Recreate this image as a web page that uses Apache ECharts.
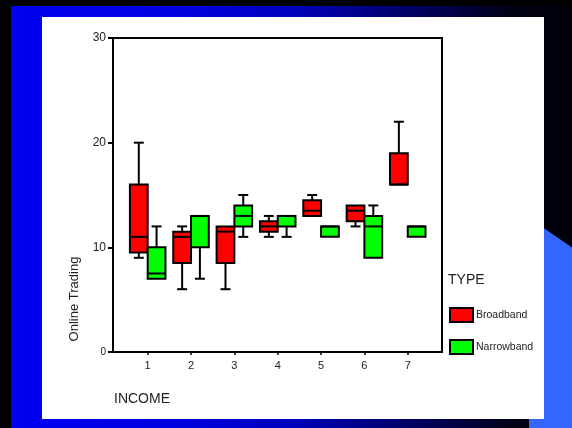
<!DOCTYPE html>
<html>
<head>
<meta charset="utf-8">
<script src="https://cdn.jsdelivr.net/npm/echarts@6/dist/echarts.min.js"></script>
<style>
  html, body { margin: 0; padding: 0; background: #000; }
  #chart { width: 572px; height: 428px; }
</style>
</head>
<body>
<div id="chart"></div>
<script>
// Income groups on the x axis
const incomeLevels = [1, 2, 3, 4, 5, 6, 7];
const incomeLabels = ['1', '2', '3', '4', '5', '6', '7'];

// Five-number summaries per income group: [min, q1, median, q3, max]
const broadband = [
  [9, 9.5, 11, 16, 20],
  [6, 8.5, 11, 11.5, 12],
  [6, 8.5, 11.5, 12, 12],
  [11, 11.5, 12, 12.5, 13],
  [13, 13, 13.5, 14.5, 15],
  [12, 12.5, 13.5, 14, 14],
  [16, 16, 16, 19, 22]
];
const narrowband = [
  [7, 7, 7.5, 10, 12],
  [7, 10, 13, 13, 13],
  [11, 12, 13, 14, 15],
  [11, 12, 13, 13, 13],
  [11, 11, 12, 12, 12],
  [9, 9, 12, 13, 14],
  [11, 11, 12, 12, 12]
];

const yTicks = [0, 10, 20, 30];
const typeNames = ['Broadband', 'Narrowband'];
const typeColors = ['#ff0000', '#00ff00'];

const BOX_W = 0.41;      // box width in x-axis units
const SHIFT = 0.205;     // side-by-side offset from the group centre

function boxRenderer(shift) {
  return function (params, api) {
    const x = api.value(0) + shift;
    const lo = api.coord([x, api.value(1)]);
    const q1 = api.coord([x, api.value(2)]);
    const md = api.coord([x, api.value(3)]);
    const q3 = api.coord([x, api.value(4)]);
    const hi = api.coord([x, api.value(5)]);
    const w = api.size([BOX_W, 0])[0];
    const cap = w * 0.56;
    const cx = lo[0];
    const ls = { stroke: '#000', lineWidth: 2, fill: null };
    const kids = [];
    if (hi[1] < q3[1] - 0.5) {
      kids.push({ type: 'line', shape: { x1: cx, y1: q3[1], x2: cx, y2: hi[1] }, style: ls });
      kids.push({ type: 'line', shape: { x1: cx - cap / 2, y1: hi[1], x2: cx + cap / 2, y2: hi[1] }, style: ls });
    }
    if (lo[1] > q1[1] + 0.5) {
      kids.push({ type: 'line', shape: { x1: cx, y1: q1[1], x2: cx, y2: lo[1] }, style: ls });
      kids.push({ type: 'line', shape: { x1: cx - cap / 2, y1: lo[1], x2: cx + cap / 2, y2: lo[1] }, style: ls });
    }
    kids.push({
      type: 'rect',
      shape: { x: cx - w / 2, y: q3[1], width: w, height: q1[1] - q3[1] },
      style: { fill: api.visual('color'), stroke: '#000', lineWidth: 2 }
    });
    kids.push({ type: 'line', shape: { x1: cx - w / 2, y1: md[1], x2: cx + w / 2, y2: md[1] }, style: ls });
    return { type: 'group', children: kids };
  };
}

function rows(stats) {
  return stats.map((s, i) => [incomeLevels[i]].concat(s));
}

// Slide backdrop
const backdrop = [
  { type: 'rect', z: -20, shape: { x: 0, y: 0, width: 572, height: 428 }, style: { fill: '#000' } },
  {
    type: 'rect', z: -19,
    shape: { x: 11, y: 6, width: 561, height: 422 },
    style: {
      fill: new echarts.graphic.LinearGradient(0, 0, 1, 0, [
        { offset: 0, color: '#0000f2' },
        { offset: 0.3, color: '#0000e0' },
        { offset: 0.5, color: '#0000bc' },
        { offset: 0.7, color: '#00006a' },
        { offset: 0.9, color: '#000014' },
        { offset: 1, color: '#000008' }
      ])
    }
  },
  {
    type: 'polygon', z: -18,
    shape: { points: [[529, 218], [572, 247.5], [572, 428], [529, 428]] },
    style: { fill: '#3366ff' }
  },
  { type: 'rect', z: -17, shape: { x: 42, y: 17, width: 502, height: 402 }, style: { fill: '#ffffff' } }
];

const texts = [
  { type: 'text', x: 114, y: 399, style: { text: 'INCOME', font: '14px "Liberation Sans", Arial, sans-serif', fill: '#222', verticalAlign: 'middle' } },
  { type: 'text', x: 448, y: 280, style: { text: 'TYPE', font: '14px "Liberation Sans", Arial, sans-serif', fill: '#222', verticalAlign: 'middle' } },
  { type: 'text', x: 74, y: 299, rotation: Math.PI / 2, style: { text: 'Online Trading', font: '13px "Liberation Sans", Arial, sans-serif', fill: '#222', align: 'center', verticalAlign: 'middle' } }
];

const chart = echarts.init(document.getElementById('chart'), null, { renderer: 'canvas' });
chart.setOption({
  animation: false,
  backgroundColor: 'transparent',
  textStyle: { fontFamily: '"Liberation Sans", Arial, sans-serif' },
  graphic: backdrop.concat(texts),
  grid: {
    left: 113, top: 38, width: 329, height: 314,
    show: true, borderColor: '#000', borderWidth: 2, backgroundColor: 'transparent'
  },
  legend: {
    orient: 'vertical',
    left: 449, top: 307,
    padding: 0,
    itemWidth: 23, itemHeight: 14, itemGap: 16,
    icon: 'rect',
    data: typeNames,
    itemStyle: { borderColor: '#000', borderWidth: 2 },
    textStyle: { fontSize: 10.5, color: '#222', padding: [0, 0, 0, -2] }
  },
  xAxis: {
    type: 'value',
    min: 0.2, max: 7.79,
    axisLine: { show: true, onZero: false, lineStyle: { color: '#000', width: 2 } },
    axisTick: { show: true, length: 3, customValues: incomeLevels, lineStyle: { color: '#000', width: 1.5 } },
    axisLabel: {
      customValues: incomeLevels,
      margin: 8, fontSize: 11, color: '#222',
      formatter: v => incomeLabels[incomeLevels.indexOf(v)]
    },
    splitLine: { show: false }
  },
  yAxis: {
    type: 'value',
    min: yTicks[0], max: yTicks[yTicks.length - 1], interval: 10,
    axisLine: { show: true, lineStyle: { color: '#000', width: 2 } },
    axisTick: { show: true, length: 5, lineStyle: { color: '#000', width: 2 } },
    axisLabel: {
      margin: 7, fontSize: 12, color: '#222',
      formatter: v => (v === 0 ? '{s|0}' : String(v)),
      rich: { s: { fontSize: 10, color: '#222' } }
    },
    splitLine: { show: false }
  },
  series: [
    {
      name: typeNames[0], type: 'custom',
      itemStyle: { color: typeColors[0] },
      renderItem: boxRenderer(-SHIFT),
      encode: { x: 0, y: [1, 2, 3, 4, 5] },
      data: rows(broadband)
    },
    {
      name: typeNames[1], type: 'custom',
      itemStyle: { color: typeColors[1] },
      renderItem: boxRenderer(SHIFT),
      encode: { x: 0, y: [1, 2, 3, 4, 5] },
      data: rows(narrowband)
    }
  ]
});
</script>
</body>
</html>
